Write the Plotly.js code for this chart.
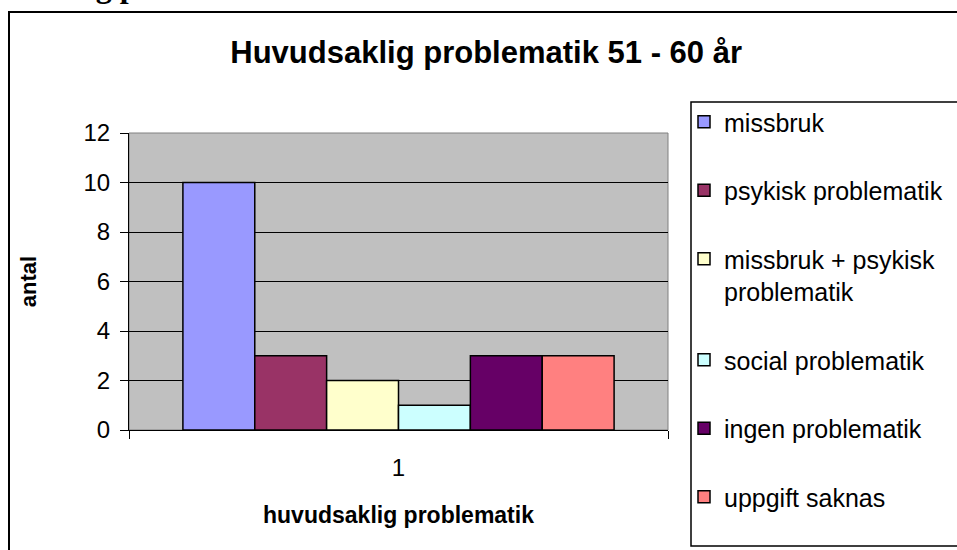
<!DOCTYPE html>
<html>
<head>
<meta charset="utf-8">
<script src="https://cdn.plot.ly/plotly-3.0.1.min.js"></script>
<style>
  body { margin: 0; background: #fff; }
  #graph { width: 957px; height: 550px; }
</style>
</head>
<body>
<div id="graph"></div>
<script>
// one category on the x axis, six series
let categories = ["1"];
let seriesNames = ["missbruk", "psykisk problematik", "missbruk + psykisk<br>problematik",
  "social problematik", "ingen problematik", "uppgift saknas"];
let seriesValues = [10, 3, 2, 1, 3, 3];
let seriesColors = ["#9999FF", "#993366", "#FFFFCC", "#CCFFFF", "#660066", "#FF8080"];
let yTicks = [0, 2, 4, 6, 8, 10, 12];

let font = "Arial, 'Liberation Sans', sans-serif";

let data = seriesNames.map(function (name, i) {
  return {
    x: categories,
    y: [seriesValues[i]],
    name: name,
    type: "bar",
    legendgroup: "g" + i,
    marker: { color: seriesColors[i], line: { color: "#000", width: 1.5 } },
    hoverinfo: "y+name"
  };
});

// plot area in pixels: x 129..668, y 133..430
let L = 129, R = 668, T = 133, B = 430;
function px(x) { return (x - L) / (R - L); }
function py(y) { return (B - y) / (B - T); }

let layout = {
  width: 957,
  height: 550,
  margin: { l: L, r: 957 - R, t: T, b: 550 - B, autoexpand: false },
  paper_bgcolor: "#fff",
  plot_bgcolor: "#C0C0C0",
  font: { family: font, color: "#000", size: 24 },
  barmode: "group",
  bargap: 0.2,
  bargroupgap: 0,
  showlegend: true,
  title: {
    text: "<b>Huvudsaklig problematik 51 - 60 år</b>",
    font: { family: font, size: 31, color: "#000" },
    xref: "container", x: 0.508, xanchor: "center",
    yref: "container", y: 1 - 52 / 550, yanchor: "middle"
  },
  xaxis: {
    type: "category",
    showgrid: false,
    showline: true, linecolor: "#000", linewidth: 1,
    ticks: "outside", tickson: "boundaries", ticklen: 8, tickcolor: "#000",
    tickfont: { size: 24 },
    ticklabelstandoff: 16,
    title: { text: "<b>huvudsaklig problematik</b>", font: { size: 23 }, standoff: 27 }
  },
  yaxis: {
    range: [0, 12],
    tickvals: yTicks,
    showgrid: true, gridcolor: "#000", gridwidth: 1,
    zeroline: false,
    showline: true, linecolor: "#000", linewidth: 1,
    ticks: "outside", ticklen: 8, tickcolor: "#000",
    tickfont: { size: 24 },
    ticklabelstandoff: 5,
    title: { text: "<b>antal</b>", font: { size: 22 }, standoff: 40 }
  },
  legend: {
    x: px(684), xanchor: "left",
    y: py(99), yanchor: "top",
    bgcolor: "rgba(0,0,0,0)", borderwidth: 0,
    font: { size: 25 },
    valign: "top",
    tracegroupgap: 33,
    maxheight: 540,
    itemclick: false
  },
  shapes: [
    // plot area border (grey)
    { type: "rect", xref: "paper", yref: "paper", x0: 0, x1: 1, y0: 0, y1: 1,
      line: { color: "#808080", width: 1 }, layer: "below" },
    // legend box
    { type: "rect", xref: "paper", yref: "paper", x0: px(691), x1: px(980), y0: py(546), y1: py(102),
      line: { color: "#000", width: 1.5 } },
    // outer chart border
    { type: "rect", xref: "paper", yref: "paper", x0: px(9), x1: px(990), y0: py(580), y1: py(12),
      line: { color: "#000", width: 2 } }
  ],
  annotations: [
    // clipped line of the surrounding document text
    { text: "<b>ng p</b>", xref: "paper", yref: "paper", x: px(76), y: py(6), xanchor: "left", yanchor: "bottom",
      showarrow: false, font: { family: "'Liberation Serif', 'Times New Roman', serif", size: 32, color: "#000" } }
  ]
};

Plotly.newPlot("graph", data, layout, { displayModeBar: false, staticPlot: true });
</script>
</body>
</html>
